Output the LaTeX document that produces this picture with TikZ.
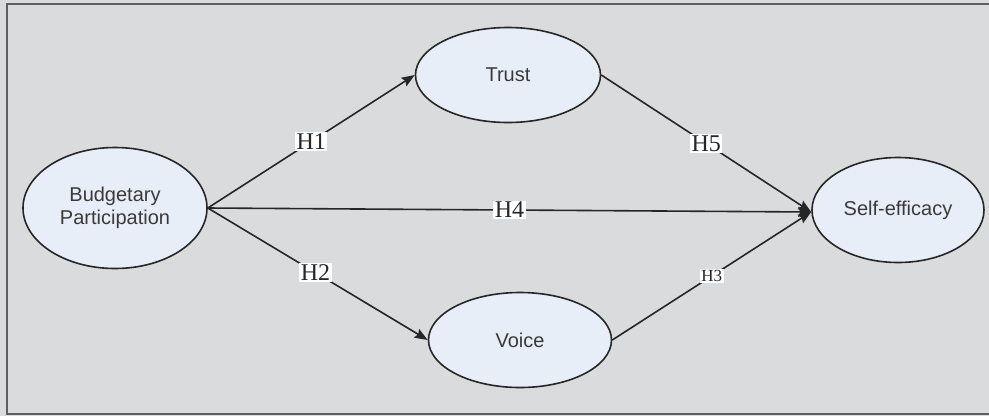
\documentclass[tikz,border=0pt]{standalone}
\usepackage{fontspec}
\setmainfont{Liberation Serif}
\newfontfamily\arialf{Liberation Sans}
\usetikzlibrary{shapes.geometric,arrows.meta}
\definecolor{bgc}{HTML}{DADBDC}
\definecolor{ellc}{HTML}{E8EEF8}
\definecolor{txtc}{HTML}{3A3A3A}
\definecolor{framec}{HTML}{5E5E5E}
\tikzset{
  construct/.style={ellipse, draw=black!85, line width=1.6pt, fill=ellc, inner sep=0pt,
    font=\arialf\fontsize{20}{23}\selectfont, text=txtc, align=center},
  link/.style={line width=1.6pt, draw=black!85, -{Stealth[length=13pt,width=10pt,inset=2pt]}},
  hlab/.style={fill=white, inner sep=1.5pt, font=\fontsize{24}{24}\selectfont, text=black!85},
  hlabs/.style={fill=white, inner sep=1.5pt, font=\fontsize{17}{17}\selectfont, text=black!85}
}
\begin{document}
\begin{tikzpicture}[x=1pt,y=-1pt]
\useasboundingbox (0,0) rectangle (989,416);
\fill[bgc] (0,0) rectangle (989,416);
\draw[framec, line width=2.5pt] (989,4) -- (7,4) -- (7,414) -- (989,414);
\node[construct, minimum width=184pt, minimum height=121pt] (bp) at (115,208) {Budgetary\\Participation};
\node[construct, minimum width=185pt, minimum height=95pt] (tr) at (508,75) {Trust};
\node[construct, minimum width=183pt, minimum height=95pt] (vo) at (520,340) {Voice};
\node[construct, minimum width=172pt, minimum height=105pt] (se) at (898,210) {Self-efficacy};
\coordinate (bpE) at (bp.east);
\coordinate (seW) at ([yshift=-2pt]se.west);
\draw[link] (bpE) -- node[hlab, pos=0.5] {H1} (tr.west);
\draw[link] (bpE) -- node[hlab, pos=0.49] {H2} (vo.west);
\draw[link] (bpE) -- node[hlab, pos=0.5] {H4} (seW);
\draw[link] (tr.east) -- node[hlab, pos=0.5] {H5} (seW);
\draw[link] (vo.east) -- node[hlabs, pos=0.5] {H3} (seW);
\end{tikzpicture}
\end{document}
